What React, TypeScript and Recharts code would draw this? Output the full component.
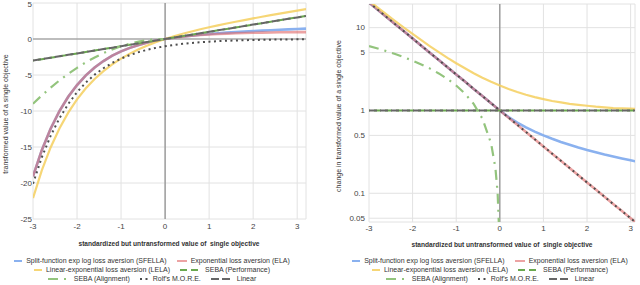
import React from 'react';
import { LineChart, Line, XAxis, YAxis, CartesianGrid, ReferenceLine, Label } from 'recharts';

// ---------- data ----------
const xValues = [-3, -2.8, -2.6, -2.4, -2.2, -2, -1.8, -1.6, -1.4, -1.2, -1, -0.8, -0.6, -0.4, -0.2, 0, 0.2, 0.4, 0.6, 0.8, 1, 1.2, 1.4, 1.6, 1.8, 2, 2.2, 2.4, 2.6, 2.8, 3, 3.2];

// left panel: transformed value
const sfellaLeft = [-19.09, -15.44, -12.46, -10.02, -8.03, -6.39, -5.05, -3.95, -3.06, -2.32, -1.72, -1.23, -0.82, -0.49, -0.22, 0, 0.18, 0.34, 0.47, 0.59, 0.69, 0.79, 0.88, 0.96, 1.03, 1.1, 1.16, 1.22, 1.28, 1.34, 1.39, 1.44];
const elaLeft = [-19.09, -15.44, -12.46, -10.02, -8.03, -6.39, -5.05, -3.95, -3.06, -2.32, -1.72, -1.23, -0.82, -0.49, -0.22, 0, 0.18, 0.33, 0.45, 0.55, 0.63, 0.7, 0.75, 0.8, 0.83, 0.86, 0.89, 0.91, 0.93, 0.94, 0.95, 0.96];
const lelaLeft = [-22.09, -18.24, -15.06, -12.42, -10.23, -8.39, -6.85, -5.55, -4.46, -3.52, -2.72, -2.03, -1.42, -0.89, -0.42, 0, 0.38, 0.73, 1.05, 1.35, 1.63, 1.9, 2.15, 2.4, 2.63, 2.86, 3.09, 3.31, 3.53, 3.74, 3.95, 4.16];
const sebaPerfLeft = [-3, -2.8, -2.6, -2.4, -2.2, -2, -1.8, -1.6, -1.4, -1.2, -1, -0.8, -0.6, -0.4, -0.2, 0, 0.2, 0.4, 0.6, 0.8, 1, 1.2, 1.4, 1.6, 1.8, 2, 2.2, 2.4, 2.6, 2.8, 3, 3.2];
const sebaAlignLeft = [-9, -7.84, -6.76, -5.76, -4.84, -4, -3.24, -2.56, -1.96, -1.44, -1, -0.64, -0.36, -0.16, -0.04, 0, null, null, null, null, null, null, null, null, null, null, null, null, null, null, null, null];
const rolfLeft = [-20.09, -16.44, -13.46, -11.02, -9.03, -7.39, -6.05, -4.95, -4.06, -3.32, -2.72, -2.23, -1.82, -1.49, -1.22, -1, -0.82, -0.67, -0.55, -0.45, -0.37, -0.3, -0.25, -0.2, -0.17, -0.14, -0.11, -0.09, -0.07, -0.06, -0.05, -0.04];
const linearLeft = [-3, -2.8, -2.6, -2.4, -2.2, -2, -1.8, -1.6, -1.4, -1.2, -1, -0.8, -0.6, -0.4, -0.2, 0, 0.2, 0.4, 0.6, 0.8, 1, 1.2, 1.4, 1.6, 1.8, 2, 2.2, 2.4, 2.6, 2.8, 3, 3.2];

// right panel: change in transformed value (log scale)
const sfellaRight = [20.09, 16.44, 13.46, 11.02, 9.03, 7.39, 6.05, 4.95, 4.06, 3.32, 2.72, 2.23, 1.82, 1.49, 1.22, 1, 0.833, 0.714, 0.625, 0.556, 0.5, 0.455, 0.417, 0.385, 0.357, 0.333, 0.313, 0.294, 0.278, 0.263, 0.25, 0.238];
const elaRight = [20.09, 16.44, 13.46, 11.02, 9.03, 7.39, 6.05, 4.95, 4.06, 3.32, 2.72, 2.23, 1.82, 1.49, 1.22, 1, 0.819, 0.67, 0.549, 0.449, 0.368, 0.301, 0.247, 0.202, 0.165, 0.135, 0.111, 0.091, 0.074, 0.061, 0.05, 0.041];
const lelaRight = [21.09, 17.44, 14.46, 12.02, 10.03, 8.39, 7.05, 5.95, 5.06, 4.32, 3.72, 3.23, 2.82, 2.49, 2.22, 2, 1.82, 1.67, 1.55, 1.45, 1.37, 1.3, 1.25, 1.2, 1.17, 1.14, 1.11, 1.09, 1.07, 1.06, 1.05, 1.04];
const sebaPerfRight = [1, 1, 1, 1, 1, 1, 1, 1, 1, 1, 1, 1, 1, 1, 1, 1, 1, 1, 1, 1, 1, 1, 1, 1, 1, 1, 1, 1, 1, 1, 1, 1];
const rolfRight = [20.09, 16.44, 13.46, 11.02, 9.03, 7.39, 6.05, 4.95, 4.06, 3.32, 2.72, 2.23, 1.82, 1.49, 1.22, 1, 0.819, 0.67, 0.549, 0.449, 0.368, 0.301, 0.247, 0.202, 0.165, 0.135, 0.111, 0.091, 0.074, 0.061, 0.05, 0.041];
const linearRight = [1, 1, 1, 1, 1, 1, 1, 1, 1, 1, 1, 1, 1, 1, 1, 1, 1, 1, 1, 1, 1, 1, 1, 1, 1, 1, 1, 1, 1, 1, 1, 1];
const sebaAlignRightX = [-3, -2.8, -2.6, -2.4, -2.2, -2, -1.8, -1.6, -1.4, -1.2, -1, -0.8, -0.6, -0.4, -0.2, -0.1, -0.05, -0.02];
const sebaAlignRight = [6, 5.6, 5.2, 4.8, 4.4, 4, 3.6, 3.2, 2.8, 2.4, 2, 1.6, 1.2, 0.8, 0.4, 0.2, 0.1, 0.04];

// ticks
const xTicks = [-3, -2, -1, 0, 1, 2, 3];
const leftYTicks = [-25, -20, -15, -10, -5, 0, 5];
const rightYTicks = [0.05, 0.1, 0.5, 1, 5, 10];

const xTitle = 'standardized but untransformed value of  single objective';
const leftYTitle = 'transformed value of a single objective';
const rightYTitle = 'change in transformed value of a single objective';

// ---------- styles ----------
const FONT = '"Liberation Sans", Arial, sans-serif';

type S = { key: string; name: string; color: string; width: number; opacity: number; dash?: string; offset?: number; icon: number };
const SERIES: S[] = [
  { key: 'sfella', name: 'Split-function exp log loss aversion (SFELLA)', color: '#8ab1ef', width: 2.6, opacity: 1, icon: 8 },
  { key: 'ela', name: 'Exponential loss aversion (ELA)', color: '#e06666', width: 2.6, opacity: 0.6, icon: 10 },
  { key: 'lela', name: 'Linear-exponential loss aversion (LELA)', color: '#f5cf5e', width: 2.2, opacity: 0.85, icon: 8 },
  { key: 'sebaPerf', name: 'SEBA (Performance)', color: '#6aa84f', width: 2, opacity: 1, dash: '7 4', offset: 6, icon: 21 },
  { key: 'sebaAlign', name: 'SEBA (Alignment)', color: '#93c47d', width: 2.2, opacity: 1, dash: '10 6 2 6', icon: 22 },
  { key: 'rolf', name: "Rolf's M.O.R.E.", color: '#4d4d4d', width: 2, opacity: 1, dash: '2 3.5', icon: 9 },
  { key: 'linear', name: 'Linear', color: '#666666', width: 2, opacity: 1, dash: '8 3', icon: 22 },
];

const leftData = xValues.map((x, i) => ({
  x,
  sfella: sfellaLeft[i],
  ela: elaLeft[i],
  lela: lelaLeft[i],
  sebaPerf: sebaPerfLeft[i],
  sebaAlign: sebaAlignLeft[i],
  rolf: rolfLeft[i],
  linear: linearLeft[i],
}));

const rightData = xValues.map((x, i) => ({
  x,
  sfella: sfellaRight[i],
  ela: elaRight[i],
  lela: lelaRight[i],
  sebaPerf: sebaPerfRight[i],
  rolf: rolfRight[i],
  linear: linearRight[i],
}));
const rightAlignData = sebaAlignRightX.map((x, i) => ({ x, sebaAlign: sebaAlignRight[i] }));

const tickStyle = { fontSize: 8, fill: '#444', fontFamily: FONT };

const renderLine = (s: S, data?: any[]) => (
  <Line
    key={s.key}
    data={data}
    type="linear"
    dataKey={s.key}
    name={s.name}
    stroke={s.color}
    strokeOpacity={s.opacity}
    strokeWidth={s.width}
    strokeDasharray={s.dash}
    strokeDashoffset={s.offset}
    dot={false}
    activeDot={false}
    isAnimationActive={false}
    connectNulls={false}
  />
);

const LegendIcon = ({ s }: { s: S }) => (
  <svg width={s.icon} height={6} style={{ marginRight: 4, flex: 'none' }}>
    <line x1={0} y1={3} x2={s.icon} y2={3} stroke={s.color} strokeOpacity={s.opacity} strokeWidth={2} strokeDasharray={s.dash} />
  </svg>
);

const legendRows = [[0, 1], [2, 3], [4, 5, 6]];

const ChartLegend = ({ left, width }: { left: number; width: number }) => (
  <div style={{ position: 'absolute', left, top: 256, width, fontFamily: FONT, fontSize: 7, color: '#333' }}>
    {legendRows.map((row, r) => (
      <div key={r} style={{ display: 'flex', justifyContent: 'center', alignItems: 'center', height: 9, whiteSpace: 'nowrap' }}>
        {row.map((idx) => (
          <div key={idx} style={{ display: 'flex', alignItems: 'center', margin: '0 5px' }}>
            <LegendIcon s={SERIES[idx]} />
            <span>{SERIES[idx].name}</span>
          </div>
        ))}
      </div>
    ))}
  </div>
);

const XTitle = (cx: number, y: number) => () => (
  <text x={cx} y={y} textAnchor="middle" fontSize={6.6} fontWeight="bold" fill="#333" fontFamily={FONT} style={{ whiteSpace: 'pre' }}>
    {xTitle}
  </text>
);

const YTitle = (text: string, cx: number, cy: number) => () => (
  <text x={cx} y={cy} textAnchor="middle" dominantBaseline="central" fontSize={7} fill="#333" fontFamily={FONT} transform={`rotate(-90 ${cx} ${cy})`}>
    {text}
  </text>
);

export default function App() {
  return (
    <div style={{ position: 'absolute', left: 0, top: 0, width: 640, height: 285, background: '#fff', overflow: 'hidden' }}>
      <div style={{ position: 'absolute', left: 0, top: 0 }}>
        <LineChart width={320} height={285} data={leftData} margin={{ top: 3, right: 14, bottom: 46, left: 0 }}>
          <CartesianGrid stroke="#e2e2e2" strokeWidth={1} />
          <XAxis
            dataKey="x"
            type="number"
            domain={[-3, 3.2]}
            ticks={xTicks}
            allowDataOverflow
            axisLine={false}
            tickLine={false}
            tickSize={0}
            tickMargin={4}
            height={20}
            tick={tickStyle}
          >
            <Label content={XTitle(169, 246)} />
          </XAxis>
          <YAxis
            type="number"
            domain={[-25, 5]}
            ticks={leftYTicks}
            allowDataOverflow
            axisLine={false}
            tickLine={false}
            tickSize={0}
            tickMargin={1}
            width={33}
            tick={tickStyle}
          >
            <Label content={YTitle(leftYTitle, 5, 114)} />
          </YAxis>
          <ReferenceLine x={0} stroke="#8a8a8a" strokeWidth={1.2} />
          <ReferenceLine y={0} stroke="#8a8a8a" strokeWidth={1.2} />
          {SERIES.map((s) => renderLine(s))}
        </LineChart>
      </div>
      <div style={{ position: 'absolute', left: 320, top: 0 }}>
        <LineChart width={320} height={285} data={rightData} margin={{ top: 4, right: 5, bottom: 43, left: 0 }}>
          <CartesianGrid stroke="#e2e2e2" strokeWidth={1} />
          <XAxis
            dataKey="x"
            type="number"
            domain={[-3, 3.1]}
            ticks={xTicks}
            allowDataOverflow
            axisLine={false}
            tickLine={false}
            tickSize={0}
            tickMargin={3}
            height={20}
            tick={tickStyle}
          >
            <Label content={XTitle(182, 247)} />
          </XAxis>
          <YAxis
            type="number"
            scale="log"
            domain={[0.045, 19.3]}
            ticks={rightYTicks}
            allowDataOverflow
            axisLine={false}
            tickLine={false}
            tickSize={0}
            tickMargin={4}
            width={49}
            tick={tickStyle}
          >
            <Label content={YTitle(rightYTitle, 18.5, 116)} />
          </YAxis>
          <ReferenceLine x={0} stroke="#8a8a8a" strokeWidth={1.2} />
          {SERIES.map((s) => (s.key === 'sebaAlign' ? renderLine(s, rightAlignData) : renderLine(s)))}
        </LineChart>
      </div>
      <ChartLegend left={0} width={304} />
      <ChartLegend left={320} width={340} />
    </div>
  );
}
